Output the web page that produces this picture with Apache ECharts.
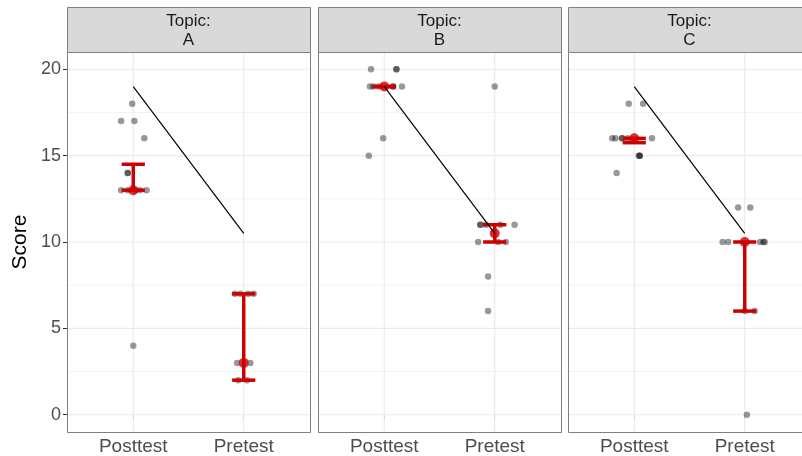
<!DOCTYPE html>
<html>
<head>
<meta charset="utf-8">
<script src="https://cdn.jsdelivr.net/npm/echarts@6/dist/echarts.min.js"></script>
<style>
  html, body { margin: 0; padding: 0; background: #fff; }
  #chart { width: 802px; height: 456px; }
</style>
</head>
<body>
<div id="chart"></div>
<script>
// facet labels and x categories
const topics = ['A', 'B', 'C'];
const tests = ['Posttest', 'Pretest'];
const scoreTicks = [0, 5, 10, 15, 20];
const minorTicks = [2.5, 7.5, 12.5, 17.5];

// raw jittered scores: [test index, jitter, score]
const pointsA = [
  [0, -0.01, 18], [0, -0.11, 17], [0, 0.01, 17], [0, 0.10, 16],
  [0, -0.05, 14], [0, -0.05, 14],
  [0, -0.11, 13], [0, -0.05, 13], [0, 0.02, 13], [0, 0.06, 13], [0, 0.12, 13],
  [0, 0.00, 4],
  [1, -0.08, 7], [1, -0.03, 7], [1, 0.04, 7], [1, 0.09, 7],
  [1, -0.06, 3], [1, 0.06, 3], [1, -0.05, 2], [1, 0.03, 2]
];
const pointsB = [
  [0, -0.12, 20], [0, 0.11, 20], [0, 0.11, 20],
  [0, -0.13, 19], [0, -0.10, 19], [0, -0.05, 19], [0, 0.08, 19], [0, 0.08, 19], [0, 0.16, 19],
  [0, -0.01, 16], [0, -0.14, 15],
  [1, 0.00, 19],
  [1, -0.13, 11], [1, -0.13, 11], [1, -0.08, 11], [1, 0.05, 11], [1, 0.18, 11],
  [1, -0.15, 10], [1, 0.03, 10], [1, 0.10, 10],
  [1, -0.06, 8], [1, -0.06, 6]
];
const pointsC = [
  [0, -0.05, 18], [0, 0.08, 18],
  [0, -0.20, 16], [0, -0.17, 16], [0, -0.11, 16], [0, -0.11, 16], [0, -0.06, 16], [0, 0.16, 16],
  [0, 0.04, 15], [0, 0.05, 15], [0, 0.05, 15],
  [0, -0.16, 14],
  [1, -0.06, 12], [1, 0.05, 12],
  [1, -0.20, 10], [1, -0.15, 10], [1, 0.14, 10], [1, 0.17, 10], [1, 0.18, 10],
  [1, 0.00, 6], [1, 0.09, 6],
  [1, 0.02, 0]
];
const pointsByTopic = [pointsA, pointsB, pointsC];

// summary (median and range) per topic
const postMedian = [13, 19, 16];
const postLow = [13, 19, 15.75];
const postHigh = [14.5, 19, 16];
const preMedian = [3, 10.5, 10];
const preLow = [2, 10, 6];
const preHigh = [7, 11, 10];

// overall trend drawn in each panel
const trendScores = [19, 10.5];

const FONT = 'Liberation Sans, Arial, sans-serif';
const CANVAS_W = 802;
const panelLeft = [67, 318, 568];
const panelWidth = 243;
const panelTop = 52;
const panelHeight = 380;
const xMin = 0.4, xMax = 2.6;

const chart = echarts.init(document.getElementById('chart'));

const renderErrorBar = (params, api) => {
  const x = api.value(0);
  const lo = api.coord([x, api.value(1)]);
  const hi = api.coord([x, api.value(2)]);
  const half = api.size([0.105, 0])[0];
  const style = { stroke: '#CC0000', lineWidth: 3.5 };
  return {
    type: 'group',
    children: [
      { type: 'line', shape: { x1: hi[0], y1: hi[1], x2: lo[0], y2: lo[1] }, style },
      { type: 'line', shape: { x1: hi[0] - half, y1: hi[1], x2: hi[0] + half, y2: hi[1] }, style },
      { type: 'line', shape: { x1: lo[0] - half, y1: lo[1], x2: lo[0] + half, y2: lo[1] }, style },
    ],
  };
}

// background grid: [axis ('x' | 'y'), value, major?]
const renderGridLine = (params, api) => {
  const cs = params.coordSys;
  const dir = api.value(0);
  const v = api.value(1);
  const major = api.value(2) === 1;
  const style = { stroke: major ? '#EBEBEB' : '#F3F3F3', lineWidth: major ? 1.2 : 1 };
  if (dir === 1) {
    const p = api.coord([v, 0]);
    return { type: 'line', shape: { x1: p[0], y1: cs.y, x2: p[0], y2: cs.y + cs.height }, style };
  }
  const p = api.coord([1, v]);
  return { type: 'line', shape: { x1: cs.x, y1: p[1], x2: cs.x + cs.width, y2: p[1] }, style };
}
const gridLineData = []
  .concat(scoreTicks.map(v => [0, v, 1]))
  .concat(minorTicks.map(v => [0, v, 0]))
  .concat([1, 2].map(v => [1, v, 1]));

const grids = [], xAxes = [], yAxes = [], series = [], graphics = [];

topics.forEach((t, i) => {
  // the last panel is cut off by the right edge of the picture:
  // shrink the grid to the canvas and trim the x range to match
  const visibleWidth = Math.min(panelWidth, CANVAS_W - panelLeft[i]);
  const axisMax = xMin + (xMax - xMin) * visibleWidth / panelWidth;
  grids.push({
    left: panelLeft[i], top: panelTop, width: visibleWidth, height: panelHeight,
    show: false,
  });
  xAxes.push({
    gridIndex: i, type: 'value', min: xMin, max: axisMax,
    axisLine: { show: false },
    splitLine: { show: false },
    axisTick: { show: true, customValues: [1, 2], length: 4, lineStyle: { color: '#333' } },
    axisLabel: {
      customValues: [1, 2], formatter: v => tests[Math.round(v) - 1],
      color: '#4D4D4D', fontSize: 19, fontFamily: FONT, margin: 5,
    },
  });
  yAxes.push({
    gridIndex: i, type: 'value', min: -1, max: 21,
    axisLine: { show: false },
    splitLine: { show: false },
    axisTick: { show: i === 0, customValues: scoreTicks, length: 4, lineStyle: { color: '#333' } },
    axisLabel: {
      show: i === 0, customValues: scoreTicks,
      color: '#4D4D4D', fontSize: 18, fontFamily: FONT, margin: 6,
    },
    name: i === 0 ? 'Score' : '',
    nameLocation: 'middle', nameGap: 36, nameRotate: 90,
    nameTextStyle: { color: '#000', fontSize: 21, fontFamily: FONT },
  });

  // grid lines
  series.push({
    type: 'custom', xAxisIndex: i, yAxisIndex: i, z: 1, silent: true,
    renderItem: renderGridLine,
    encode: { x: -1, y: -1 },
    data: gridLineData,
  });
  // raw scores
  series.push({
    type: 'scatter', xAxisIndex: i, yAxisIndex: i, z: 2,
    symbolSize: 6.5,
    itemStyle: { color: 'rgba(0,0,0,0.5)' },
    data: pointsByTopic[i].map(p => [p[0] + 1 + p[1], p[2]]),
  });
  // range bars
  series.push({
    type: 'custom', xAxisIndex: i, yAxisIndex: i, z: 3,
    renderItem: renderErrorBar,
    encode: { x: 0, y: [1, 2] },
    data: [[1, postLow[i], postHigh[i]], [2, preLow[i], preHigh[i]]],
  });
  // medians
  series.push({
    type: 'scatter', xAxisIndex: i, yAxisIndex: i, z: 4,
    symbolSize: 10,
    itemStyle: { color: '#CC0000' },
    data: [[1, postMedian[i]], [2, preMedian[i]]],
  });
  // trend
  series.push({
    type: 'line', xAxisIndex: i, yAxisIndex: i, z: 5,
    showSymbol: false,
    lineStyle: { color: '#000', width: 1.2 },
    data: [[1, trendScores[0]], [2, trendScores[1]]],
  });

  // panel border (full width, so the cut panel has no right edge)
  graphics.push({
    type: 'rect', silent: true, z: 10,
    shape: { x: panelLeft[i] + 0.5, y: panelTop + 0.5, width: panelWidth, height: panelHeight },
    style: { fill: 'none', stroke: '#808080', lineWidth: 1 },
  });
  // facet strip
  graphics.push({
    type: 'rect',
    shape: { x: panelLeft[i] + 0.5, y: 7.5, width: panelWidth, height: 45 },
    style: { fill: '#D9D9D9', stroke: '#808080', lineWidth: 1 },
  });
  graphics.push({
    type: 'text',
    x: panelLeft[i] + panelWidth / 2, y: 31,
    style: {
      text: 'Topic:\n' + t, fill: '#1A1A1A', font: '17px ' + FONT,
      align: 'center', verticalAlign: 'middle', lineHeight: 19,
    },
  });
});

chart.setOption({
  animation: false,
  backgroundColor: '#fff',
  grid: grids,
  xAxis: xAxes,
  yAxis: yAxes,
  series: series,
  graphic: graphics,
});
</script>
</body>
</html>
